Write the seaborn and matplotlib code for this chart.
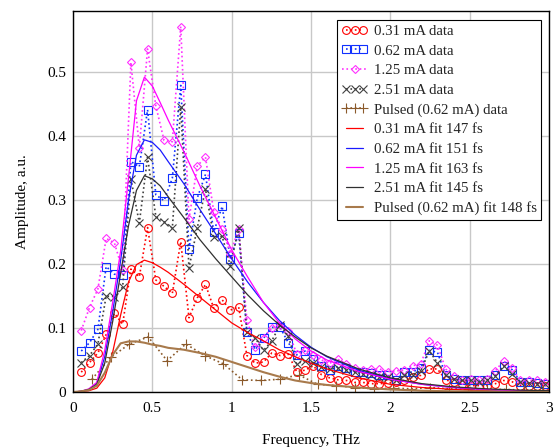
import matplotlib
matplotlib.use("Agg")
import matplotlib.pyplot as plt
from matplotlib.legend_handler import HandlerLine2D
import seaborn as sns

# Spectrum data (amplitude, a.u.)
freq = [0.052, 0.104, 0.157, 0.209, 0.261, 0.313, 0.365, 0.418, 0.470, 0.522,
        0.574, 0.626, 0.679, 0.731, 0.783, 0.835, 0.887, 0.940, 0.992, 1.044,
        1.096, 1.148, 1.201, 1.253, 1.305, 1.357, 1.409, 1.462, 1.514, 1.566,
        1.618, 1.670, 1.723, 1.775, 1.827, 1.879, 1.931, 1.984, 2.036, 2.088,
        2.140, 2.192, 2.245, 2.297, 2.349, 2.401, 2.453, 2.506, 2.558, 2.610,
        2.662, 2.714, 2.767, 2.819, 2.871, 2.923, 2.975]

amp_031 = [0.031, 0.046, 0.061, 0.090, 0.123, 0.106, 0.192, 0.180, 0.257, 0.175,
           0.165, 0.154, 0.235, 0.116, 0.147, 0.168, 0.131, 0.144, 0.128, 0.133,
           0.057, 0.045, 0.047, 0.061, 0.057, 0.059, 0.032, 0.034, 0.041, 0.027,
           0.022, 0.019, 0.018, 0.015, 0.015, 0.013, 0.013, 0.014, 0.015, 0.018,
           0.023, 0.026, 0.036, 0.036, 0.019, 0.015, 0.013, 0.010, 0.010, 0.010,
           0.013, 0.018, 0.016, 0.010, 0.010, 0.010, 0.010]

amp_062 = [0.064, 0.077, 0.098, 0.196, 0.184, 0.183, 0.360, 0.352, 0.441, 0.308,
           0.299, 0.334, 0.479, 0.224, 0.303, 0.340, 0.250, 0.290, 0.208, 0.248,
           0.093, 0.066, 0.084, 0.101, 0.101, 0.077, 0.058, 0.064, 0.051, 0.040,
           0.034, 0.040, 0.037, 0.032, 0.031, 0.029, 0.026, 0.026, 0.019, 0.031,
           0.031, 0.038, 0.065, 0.062, 0.026, 0.020, 0.018, 0.018, 0.018, 0.018,
           0.026, 0.041, 0.035, 0.016, 0.015, 0.014, 0.013]

amp_125 = [0.096, 0.132, 0.161, 0.240, 0.233, 0.190, 0.515, 0.382, 0.536, 0.447,
           0.393, 0.391, 0.571, 0.270, 0.353, 0.367, 0.282, 0.255, 0.216, 0.255,
           0.113, 0.070, 0.085, 0.100, 0.105, 0.096, 0.060, 0.066, 0.058, 0.050,
           0.045, 0.051, 0.044, 0.038, 0.035, 0.036, 0.036, 0.032, 0.033, 0.034,
           0.041, 0.044, 0.080, 0.073, 0.036, 0.025, 0.019, 0.020, 0.019, 0.020,
           0.033, 0.049, 0.037, 0.018, 0.018, 0.018, 0.016]

amp_251 = [0.046, 0.057, 0.075, 0.150, 0.149, 0.164, 0.333, 0.264, 0.367, 0.274,
           0.266, 0.256, 0.445, 0.194, 0.256, 0.317, 0.242, 0.243, 0.197, 0.257,
           0.093, 0.084, 0.065, 0.080, 0.105, 0.087, 0.044, 0.049, 0.046, 0.039,
           0.036, 0.038, 0.034, 0.031, 0.028, 0.026, 0.024, 0.023, 0.019, 0.026,
           0.027, 0.033, 0.064, 0.046, 0.026, 0.020, 0.018, 0.018, 0.016, 0.018,
           0.025, 0.041, 0.028, 0.015, 0.014, 0.013, 0.013]

pulsed_freq = [0.119, 0.237, 0.356, 0.474, 0.593, 0.711, 0.830, 0.948, 1.067,
               1.185, 1.304, 1.422, 1.541, 1.659, 1.778, 1.896, 2.015, 2.133,
               2.252, 2.370, 2.489, 2.607, 2.726, 2.844, 2.963]
amp_pulsed = [0.020, 0.054, 0.075, 0.086, 0.049, 0.075, 0.057, 0.044, 0.019,
              0.018, 0.020, 0.027, 0.012, 0.010, 0.007, 0.005, 0.006, 0.005,
              0.007, 0.005, 0.005, 0.004, 0.004, 0.003, 0.003]

# Fitted curves, sampled along the drawn lines
fit_freq = [0.0, 0.05, 0.1, 0.15, 0.2, 0.25, 0.3, 0.35, 0.4, 0.45, 0.5, 0.55, 0.6,
            0.7, 0.8, 0.9, 1.0, 1.1, 1.2, 1.3, 1.4, 1.5, 1.6, 1.8, 2.0, 2.2, 2.4,
            2.6, 2.8, 3.0]
fit_031 = [0.000, 0.001, 0.002, 0.006, 0.022, 0.062, 0.120, 0.172, 0.199, 0.206,
           0.202, 0.195, 0.187, 0.168, 0.148, 0.128, 0.108, 0.093, 0.080, 0.066,
           0.055, 0.045, 0.036, 0.022, 0.012, 0.007, 0.004, 0.002, 0.001, 0.001]
fit_062 = [0.000, 0.001, 0.004, 0.014, 0.055, 0.125, 0.205, 0.300, 0.370, 0.394,
           0.390, 0.378, 0.360, 0.325, 0.285, 0.247, 0.208, 0.172, 0.140, 0.112,
           0.089, 0.070, 0.055, 0.034, 0.020, 0.012, 0.007, 0.004, 0.002, 0.001]
fit_125 = [0.000, 0.001, 0.005, 0.015, 0.065, 0.140, 0.220, 0.335, 0.455, 0.492,
           0.478, 0.452, 0.425, 0.375, 0.322, 0.272, 0.222, 0.180, 0.140, 0.108,
           0.083, 0.064, 0.050, 0.032, 0.020, 0.012, 0.007, 0.004, 0.002, 0.001]
fit_251 = [0.000, 0.001, 0.004, 0.012, 0.045, 0.110, 0.185, 0.260, 0.315, 0.338,
           0.333, 0.322, 0.305, 0.272, 0.238, 0.208, 0.180, 0.152, 0.127, 0.105,
           0.086, 0.069, 0.056, 0.036, 0.022, 0.013, 0.008, 0.005, 0.003, 0.002]
fit_pulsed = [0.000, 0.001, 0.003, 0.010, 0.030, 0.058, 0.076, 0.079, 0.079, 0.077,
              0.074, 0.072, 0.069, 0.066, 0.061, 0.055, 0.047, 0.039, 0.031, 0.024,
              0.018, 0.014, 0.011, 0.007, 0.004, 0.002, 0.001, 0.001, 0.000, 0.000]

x_ticks = [0, 0.5, 1, 1.5, 2, 2.5, 3]
x_tick_labels = ["0", "0.5", "1", "1.5", "2", "2.5", "3"]
y_ticks = [0, 0.1, 0.2, 0.3, 0.4, 0.5]
y_tick_labels = ["0", "0.1", "0.2", "0.3", "0.4", "0.5"]

sns.set_theme(style="whitegrid")
plt.rcParams["font.family"] = ["Liberation Serif", "DejaVu Serif"]

fig = plt.figure(figsize=(5.55, 4.47), dpi=100)
ax = fig.add_axes([73 / 555, 55 / 447, 476 / 555, 381 / 447])

# measured data: open markers joined by dotted lines
data_series = [
    (freq, amp_031, "0.31 mA data", "#ff0000", "o", 5.6),
    (freq, amp_062, "0.62 mA data", "#1030ff", "s", 5.4),
    (freq, amp_125, "1.25 mA data", "#ff30ff", "D", 4.2),
    (freq, amp_251, "2.51 mA data", "#404040", "x", 6.0),
    (pulsed_freq, amp_pulsed, "Pulsed (0.62 mA) data", "#8b5a2b", "+", 7.0),
]
for x, y, label, color, marker, ms in data_series:
    sns.lineplot(x=x, y=y, ax=ax, label=label, legend=False, color=color,
                 linestyle=":", linewidth=1.2, marker=marker, markersize=ms,
                 markerfacecolor="none", markeredgecolor=color, markeredgewidth=0.8)

# fitted curves
fit_series = [
    (fit_031, "0.31 mA fit 147 fs", "#ff0000", 0.9),
    (fit_062, "0.62 mA fit 151 fs", "#1a1aff", 0.9),
    (fit_125, "1.25 mA fit 163 fs", "#ff00ff", 0.9),
    (fit_251, "2.51 mA fit 145 fs", "#303030", 0.9),
    (fit_pulsed, "Pulsed (0.62 mA) fit 148 fs", "#a87a4c", 1.5),
]
for y, label, color, lw in fit_series:
    sns.lineplot(x=fit_freq, y=y, ax=ax, label=label, legend=False,
                 color=color, linewidth=lw)

ax.set_xlim(0, 3)
ax.set_ylim(0, 381 / 640)
ax.set_xticks(x_ticks)
ax.set_xticklabels(x_tick_labels)
ax.set_yticks(y_ticks)
ax.set_yticklabels(y_tick_labels)
ax.tick_params(axis="both", length=0, labelsize=11, colors="black")
ax.tick_params(axis="x", pad=7)
ax.tick_params(axis="y", pad=5)
ax.grid(True, color="#c8c8c8", linewidth=1.0)
for sp in ax.spines.values():
    sp.set_color("black")
    sp.set_linewidth(1.0)

ax.set_xlabel("Frequency, THz", fontsize=11, color="black", labelpad=14)
ax.set_ylabel("Amplitude, a.u.", fontsize=11, color="black", labelpad=13)

handles, labels = ax.get_legend_handles_labels()
pink_line = [h for h, l in zip(handles, labels) if l == "1.25 mA data"][0]
leg = ax.legend(handles, labels, loc="upper right",
                bbox_to_anchor=(541 / 555, 1 - 20 / 447),
                bbox_transform=fig.transFigure, borderaxespad=0,
                fontsize=10.7, frameon=True, fancybox=False, framealpha=1,
                edgecolor="black", numpoints=3, handlelength=1.75,
                handletextpad=0.4, labelspacing=0.42, borderpad=0.3,
                handler_map={pink_line: HandlerLine2D(numpoints=1)})
leg.get_frame().set_linewidth(0.8)

fig.savefig("out.png", dpi=100)
